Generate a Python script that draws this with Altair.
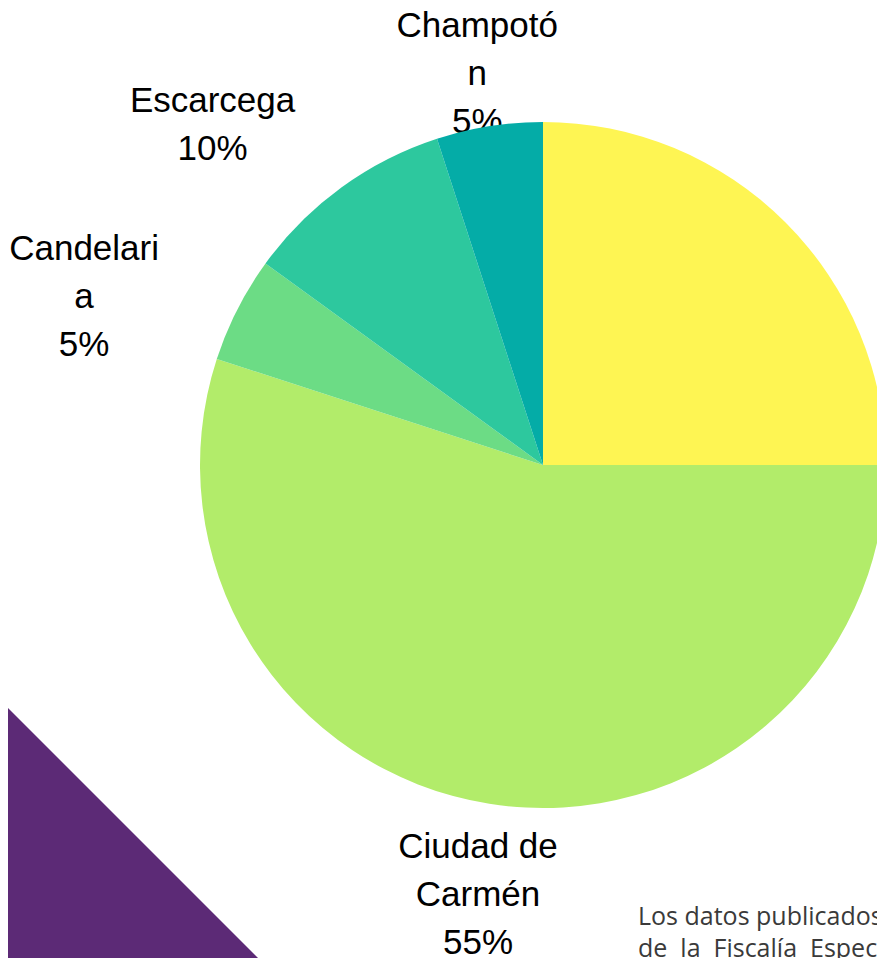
import altair as alt
import pandas as pd

# ---- data ----
categorias = ["Campeche", "Ciudad de Carmén", "Candelaria", "Escarcega", "Champotón"]
valores = [25, 55, 5, 10, 5]
etiquetas = ["Campeche", "Ciudad de\nCarmén", "Candelari\na", "Escarcega", "Champotó\nn"]
colores = ["#FEF553", "#B2EC6A", "#6CDC85", "#2DC89E", "#04ACA7"]
nota = ["Los datos publicados por la",
        "de\u00a0\u00a0la\u00a0\u00a0Fiscalía\u00a0\u00a0Especializada"]

df = pd.DataFrame({
    "categoria": categorias,
    "valor": valores,
    "orden": list(range(len(categorias))),
    "texto": [f"{e}\n{v}%" for e, v in zip(etiquetas, valores)],
})

# ---- layout ----
W, H = 869, 950
CX, CY, R = 535, 457, 343
LH = 48

base = alt.Chart(df).encode(
    theta=alt.Theta("valor:Q", stack=True),
    order=alt.Order("orden:Q"),
    x=alt.value(CX),
    y=alt.value(CY),
)

arc = base.mark_arc(outerRadius=R, strokeWidth=0).encode(
    color=alt.Color("categoria:N",
                    scale=alt.Scale(domain=categorias, range=colores),
                    legend=None)
)

# label placement (radius, dx, dy, number of lines) per visible label
ajustes = {
    "Ciudad de Carmén": (441, 4, -6, 3),
    "Candelaria": (487, -25, 53, 3),
    "Escarcega": (472, -53, 42, 2),
    "Champotón": (395, -4, -1, 3),
}
textos = []
for cat, (r, dx, dy, n) in ajustes.items():
    textos.append(
        base.mark_text(radius=r, dx=dx, dy=dy - (n - 1) * LH / 2,
                       font="Liberation Sans", fontSize=35, lineBreak="\n",
                       lineHeight=LH, align="center", baseline="middle",
                       color="black")
        .encode(text=alt.condition(alt.datum.categoria == cat,
                                   alt.Text("texto:N"), alt.value("")))
    )

# decorative purple triangle (bottom-left)
L = 280
tri = alt.Chart(pd.DataFrame({"d": [0]})).mark_point(
    shape="M -1 -1 L 1 1 L -1 1 Z", size=L * L, filled=True,
    fill="#5C2A76", opacity=1, strokeWidth=0,
).encode(x=alt.value(-8 + L / 2), y=alt.value(692 + L / 2))

# footnote
nota_df = pd.DataFrame({"linea": nota})
estilo = dict(align="left", baseline="alphabetic", font="Open Sans",
              fontSize=25, fontWeight=400, color="#3a3a3a")
nota1 = alt.Chart(nota_df).transform_filter(alt.datum.linea == nota[0]).mark_text(
    **estilo).encode(text="linea:N", x=alt.value(630), y=alt.value(917))
nota2 = alt.Chart(nota_df).transform_filter(alt.datum.linea == nota[1]).mark_text(
    **estilo).encode(text="linea:N", x=alt.value(630), y=alt.value(949))

chart = alt.layer(tri, *textos, arc, nota1, nota2).properties(
    width=W, height=H, padding=0, autosize="none"
).configure_view(stroke=None)

chart.save("out.html", embed_options={"renderer": "svg", "actions": False})
